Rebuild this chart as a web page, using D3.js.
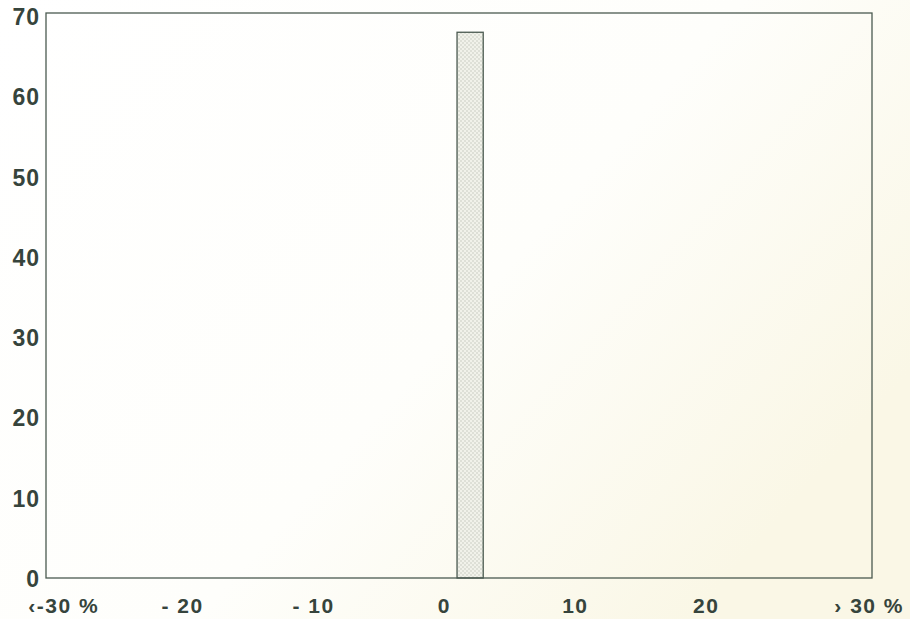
<!DOCTYPE html>
<html>
<head>
<meta charset="utf-8">
<script src="https://cdn.jsdelivr.net/npm/d3@7"></script>
<style>
  body { margin: 0; background: #fdfdf9; }
  text { font-family: "Liberation Sans", Arial, sans-serif; font-weight: bold; fill: #36443c; }
</style>
</head>
<body>
<div id="chart"></div>
<script>
// Data
var binStart = [1];
var binEnd = [3];
var counts = [68];

var yTicks = [0, 10, 20, 30, 40, 50, 60, 70];
var xTicks = [-30, -20, -10, 0, 10, 20, 30];
var xTickLabels = ["\u2039-30 %", "- 20", "- 10", "0", "10", "20", "\u203a 30 %"];

var svgWidth = 910;
var svgHeight = 619;

var svg = d3.select("#chart")
  .append("svg")
  .attr("width", svgWidth)
  .attr("height", svgHeight);

// paper tone of the scan
var defs = svg.append("defs");
var grad = defs.append("linearGradient")
  .attr("id", "paper")
  .attr("x1", "0").attr("y1", "0").attr("x2", "1").attr("y2", "0.6");
grad.append("stop").attr("offset", "0").attr("stop-color", "#ffffff");
grad.append("stop").attr("offset", "0.6").attr("stop-color", "#fefefb");
grad.append("stop").attr("offset", "1").attr("stop-color", "#faf7e6");

var dots = defs.append("pattern")
  .attr("id", "dots")
  .attr("width", 4).attr("height", 4)
  .attr("patternUnits", "userSpaceOnUse");
dots.append("rect").attr("width", 4).attr("height", 4).attr("fill", "#f1f2ea");
dots.append("circle").attr("cx", 1).attr("cy", 1).attr("r", 0.7).attr("fill", "#bcc2b5");
dots.append("circle").attr("cx", 3).attr("cy", 3).attr("r", 0.7).attr("fill", "#bcc2b5");

svg.append("rect")
  .attr("width", svgWidth)
  .attr("height", svgHeight)
  .attr("fill", "url(#paper)");

// Scales
var xScale = d3.scaleLinear()
  .domain([-30.4, 32.7])
  .range([46, 872]);

var yScale = d3.scaleLinear()
  .domain([0, 70.4])
  .range([578, 13]);

var lineColor = "#4b5a50";

// Bars
svg.selectAll(".bar")
  .data(counts)
  .enter()
  .append("rect")
  .attr("class", "bar")
  .attr("x", (d, i) => xScale(binStart[i]))
  .attr("width", (d, i) => xScale(binEnd[i]) - xScale(binStart[i]))
  .attr("y", d => yScale(d))
  .attr("height", d => yScale(0) - yScale(d))
  .attr("fill", "url(#dots)")
  .attr("stroke", lineColor)
  .attr("stroke-width", 1.3);

// Frame
svg.append("rect")
  .attr("x", xScale.range()[0])
  .attr("y", yScale.range()[1])
  .attr("width", xScale.range()[1] - xScale.range()[0])
  .attr("height", yScale.range()[0] - yScale.range()[1])
  .attr("fill", "none")
  .attr("stroke", lineColor)
  .attr("stroke-width", 1.3);

// Y axis labels
var leftAxis = d3.axisLeft(yScale)
  .tickValues(yTicks)
  .tickSize(0)
  .tickPadding(6)
  .tickFormat(d3.format("d"));

var yAxisG = svg.append("g")
  .attr("transform", `translate(${xScale.range()[0]}, 0)`)
  .call(leftAxis);
yAxisG.select(".domain").remove();
yAxisG.selectAll("text")
  .attr("font-size", 23)
  .attr("letter-spacing", 1)
  .attr("dy", "0.36em")
  .attr("font-family", null);

// X axis labels
var bottomAxis = d3.axisBottom(xScale)
  .tickValues(xTicks)
  .tickSize(0)
  .tickPadding(20)
  .tickFormat((d, i) => xTickLabels[i]);

var xAxisG = svg.append("g")
  .attr("transform", `translate(0, ${yScale.range()[0]})`)
  .call(bottomAxis);
xAxisG.select(".domain").remove();
xAxisG.selectAll("text")
  .attr("font-size", 21)
  .attr("letter-spacing", 1.5)
  .attr("font-family", null)
  .attr("dx", (d, i) => i === 0 ? 12 : (i === xTicks.length - 1 ? 32 : 0));
</script>
</body>
</html>
